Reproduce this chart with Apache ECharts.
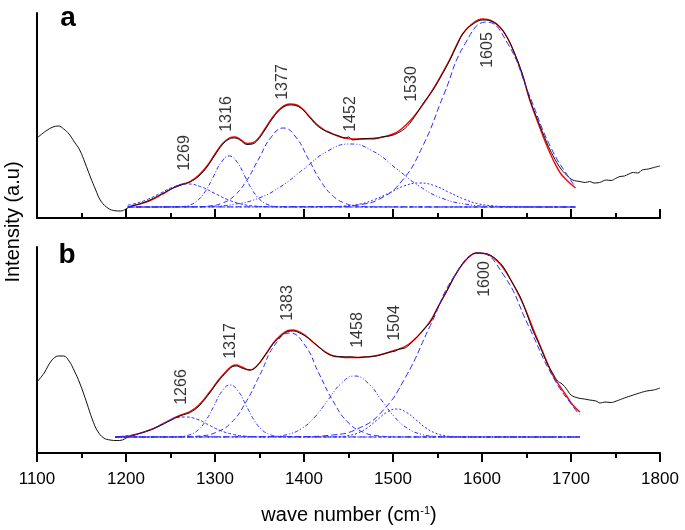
<!DOCTYPE html>
<html><head><meta charset="utf-8">
<script src="https://cdn.jsdelivr.net/npm/echarts@6/dist/echarts.min.js"></script>
<style>html,body{margin:0;padding:0;background:#fff}#c{width:685px;height:530px}</style>
</head><body><div id="c"></div>
<script>
// ---------- Panel a ----------
const rawA = [[1100,80],[1110,87],[1118,91],[1124,92],[1130,89],[1136,84],[1142,76],[1148,68],[1154,55],[1160,41],[1166,28],[1171,18],[1178,11],[1186,7.5],[1194,7],[1200,9],[1205,11.5],[1215,14],[1227,18],[1240,24],[1253,30],[1262,33],[1272,36],[1282,42],[1291,51],[1300,63],[1308,73],[1316,79],[1322,80],[1328,78],[1336,73.5],[1342,74],[1348,78],[1356,88],[1365,100],[1374,109],[1384,113],[1392,112],[1399,108],[1406,101],[1414,93],[1422,88],[1429,85],[1438,82.5],[1446,80],[1450,81],[1455,78],[1462,79],[1470,79.5],[1478,79],[1489,81.3],[1496,82],[1502,83.5],[1508,86.3],[1514,90],[1520,96],[1527,105],[1534,114.7],[1545,128],[1553,140],[1564,158],[1572,173],[1579,185],[1590,194],[1601,198],[1610,197],[1620,191],[1628,181],[1635,168],[1645,145],[1654,118],[1663,97],[1673,75],[1680,62],[1688,50],[1695,43],[1702,38],[1710,36.5],[1716,35.5],[1721,36.5],[1726,35],[1732,35.5],[1740,38],[1745,37.5],[1750,39.5],[1755,41.5],[1760,42],[1765,44],[1770,45.5],[1775,45],[1780,48],[1787,49],[1793,50.5],[1800,52]];
const fitA = [[1202,11],[1215,13.8],[1227,17.5],[1240,23.5],[1253,30],[1262,33.5],[1272,36.5],[1282,43],[1291,52],[1300,64],[1308,74],[1316,80],[1322,81],[1328,79],[1336,74.5],[1342,75],[1348,79],[1356,89],[1365,101],[1374,110],[1384,114],[1392,113],[1399,108.5],[1406,101.5],[1414,94],[1422,88.5],[1429,85.5],[1438,82],[1446,80],[1455,79],[1465,79],[1475,79.5],[1489,81],[1500,84],[1508,88],[1520,98],[1534,114],[1545,129],[1553,141],[1564,159],[1572,174],[1579,185],[1590,195],[1601,199],[1610,197.5],[1620,191],[1628,181],[1635,168],[1645,144],[1654,117],[1663,95],[1673,72],[1680,58],[1688,45],[1695,38],[1705,30]];
const bandA1269 = [[1202,12.9],[1209,14.1],[1224,18.5],[1239,24.9],[1254,31.3],[1269,34],[1284,31.3],[1299,24.9],[1314,18.5],[1329,14.1],[1344,12],[1359,11.3],[1380,11],[1705,11]];
const bandA1316 = [[1202,11],[1250,11.1],[1262,11.4],[1271,12.9],[1280,17.2],[1289,26.5],[1298,41],[1307,55.7],[1316,62],[1325,55.7],[1334,41],[1343,26.5],[1352,17.2],[1361,12.9],[1370,11.4],[1382,11.1],[1705,11]];
const bandA1377 = [[1202,11],[1280,11.2],[1293,11.9],[1307,14.5],[1321,21.7],[1335,36.7],[1349,58.9],[1363,80.7],[1377,90],[1391,80.7],[1405,58.9],[1419,36.7],[1433,21.7],[1447,14.5],[1461,11.9],[1474,11.2],[1705,11]];
const bandA1452 = [[1202,11],[1270,11.2],[1296,11.7],[1322,13.8],[1348,19.5],[1374,31.5],[1400,49.2],[1426,66.6],[1452,74],[1478,66.6],[1504,49.2],[1530,31.5],[1556,19.5],[1582,13.8],[1608,11.7],[1634,11.2],[1705,11]];
const bandA1530 = [[1202,11],[1410,11.1],[1431,11.3],[1447,12.1],[1464,14.2],[1480,18.8],[1497,25.6],[1513,32.2],[1530,35],[1547,32.2],[1563,25.6],[1580,18.8],[1596,14.2],[1613,12.1],[1629,11.3],[1650,11.1],[1705,11]];
const bandA1605 = [[1202,11],[1440,11.5],[1461,13.1],[1485,19.1],[1509,36],[1533,71.1],[1557,123.2],[1581,174.3],[1605,196],[1629,174.3],[1653,123.2],[1677,71.1],[1701,36],[1705,32]];
const peakTextA = ['1269','1316','1377','1452','1530','1605'];
const peakLabelWnA = [1266,1313,1376,1452,1521,1606];
const peakLabelValA = [65,104,136,104,134,168];

// ---------- Panel b ----------
const rawB = [[1100,71],[1108,80],[1116,92],[1124,97],[1130,97],[1136,92],[1142,82],[1148,70],[1156,50],[1162,34],[1168,22],[1175,15],[1182,13],[1190,12.5],[1196,13],[1200,15],[1210,18],[1227,23],[1240,28],[1253,34],[1262,37.5],[1272,40.5],[1282,47],[1294,60],[1304,72],[1313,81],[1319,86],[1324,87],[1330,85],[1339,83],[1346,86],[1358,100],[1366,110],[1373,116],[1382,121.5],[1388,122],[1395,120],[1403,116],[1410,111],[1418,105],[1425,100],[1433,97],[1440,96.5],[1447,96],[1452,96.3],[1460,95.5],[1468,96],[1476,96.5],[1483,97.5],[1489,99],[1497,101],[1503,102],[1507,104],[1512,104.5],[1518,108],[1527,116],[1535,124],[1542,131],[1550,145],[1561,163],[1570,178],[1579,190],[1588,198],[1594,200],[1603,199.5],[1609,198],[1617,193],[1624,186],[1633,172],[1643,156],[1650,140],[1657,123],[1665,107],[1673,90],[1680,79],[1685,72],[1690,69],[1695,64],[1700,58],[1708,55],[1715,54],[1721,53],[1728,52],[1733,50],[1738,51],[1745,50.5],[1751,52],[1760,55],[1770,58],[1777,60],[1785,62],[1793,63],[1800,65]];
const fitB = [[1188,16],[1200,16.5],[1210,18.5],[1227,23],[1240,28.5],[1253,34.5],[1262,38],[1272,41.5],[1282,48],[1294,61],[1304,73],[1313,82],[1319,87],[1324,88],[1330,86],[1339,83],[1346,86],[1358,100],[1366,110.5],[1373,117],[1382,122.5],[1388,123],[1395,121],[1403,116.5],[1410,111],[1418,105],[1425,100.5],[1433,97],[1440,96],[1452,95.5],[1460,95.5],[1468,96],[1476,96.5],[1489,99],[1503,103],[1510,105],[1518,109],[1527,116],[1535,124],[1542,132],[1550,145],[1561,163],[1570,178],[1579,190],[1588,198],[1594,200],[1603,199.5],[1609,197.5],[1617,192],[1624,185],[1633,172],[1643,155],[1650,141],[1657,125],[1665,108],[1673,91],[1680,77],[1688,66],[1695,57],[1702,48],[1710,41]];
const bandB1266 = [[1188,16.3],[1198,16.9],[1212,18.7],[1225,22.5],[1239,28.1],[1252,33.7],[1266,36],[1280,33.7],[1293,28.1],[1306,22.5],[1320,18.7],[1333,16.9],[1347,16.2],[1365,16],[1710,16]];
const bandB1317 = [[1188,16],[1253,16.1],[1263,16.6],[1272,18.3],[1281,23],[1290,32.9],[1299,47.5],[1308,61.9],[1317,68],[1326,61.9],[1335,47.5],[1344,32.9],[1353,23],[1362,18.3],[1371,16.6],[1381,16.1],[1710,16]];
const bandB1383 = [[1188,16],[1262,16.1],[1285,17.2],[1301,20.6],[1318,30.1],[1334,49.8],[1351,79.1],[1367,107.8],[1384,120],[1401,107.8],[1417,79.1],[1434,49.8],[1450,30.1],[1467,20.6],[1483,17.2],[1505,16.1],[1710,16]];
const bandB1458 = [[1188,16],[1345,16.1],[1367,16.7],[1382,18.7],[1397,24.3],[1412,35.8],[1427,53],[1442,69.8],[1457,77],[1472,69.8],[1487,53],[1502,35.8],[1517,24.3],[1532,18.7],[1547,16.7],[1570,16.1],[1710,16]];
const bandB1504 = [[1188,16],[1420,16.05],[1438,16.3],[1449,17.2],[1460,19.8],[1471,25.1],[1482,33],[1493,40.7],[1504,44],[1515,40.7],[1526,33],[1537,25.1],[1548,19.8],[1559,17.2],[1570,16.3],[1588,16.05],[1710,16]];
const bandB1600 = [[1188,16],[1400,16.5],[1432,18],[1460,24.1],[1487,40.9],[1514,75.7],[1542,127.6],[1570,178.4],[1597,200],[1624,178.4],[1652,127.6],[1680,75.7],[1707,40.9],[1710,38.5]];
const peakTextB = ['1266','1317','1383','1458','1504','1600'];
const peakLabelWnB = [1263,1317,1382,1460,1502,1603];
const peakLabelValB = [66,112,150,123,130,174];

// ---------- build ----------
const FONT = '"Liberation Sans", Arial, Helvetica, sans-serif';
const BLUE = '#2a2aff';
const dashes = [[3,2],[4,2,1,2],[5,3],[4,2,1,2,1,2],[2,2],[6,3]];

function bandSeries(list, idx) {
  return list.map((d, i) => ({
    type: 'line', data: d, xAxisIndex: idx, yAxisIndex: idx,
    showSymbol: false, smooth: 0.5, silent: true, z: 4,
    lineStyle: { color: BLUE, width: 1, type: dashes[i] }
  }));
}
function labelSeries(texts, wns, vals, idx) {
  return {
    type: 'scatter', xAxisIndex: idx, yAxisIndex: idx, symbolSize: 1, z: 6,
    itemStyle: { color: 'rgba(0,0,0,0)' },
    data: texts.map((t, i) => ({ value: [wns[i], vals[i]], name: t })),
    label: { show: true, position: 'inside', rotate: 90, formatter: p => p.name,
      fontSize: 16, fontFamily: FONT, color: '#000' }
  };
}
function xAx(idx, inside, showLabels) {
  return {
    type: 'value', gridIndex: idx, min: 1100, max: 1800, interval: 100,
    axisLine: { onZero: false, lineStyle: { color: '#000', width: 2 } },
    axisTick: { inside: inside, length: 9, lineStyle: { color: '#000', width: 2 } },
    minorTick: { show: true, splitNumber: 2, length: 5, lineStyle: { color: '#000', width: 2 } },
    axisLabel: { show: showLabels, fontSize: 17, fontFamily: FONT, color: '#000', margin: 18,
      formatter: v => String(v) },
    splitLine: { show: false }
  };
}
function yAx(idx, max) {
  return {
    type: 'value', gridIndex: idx, min: 0, max: max,
    axisLine: { show: true, onZero: false, lineStyle: { color: '#000', width: 2 } },
    axisTick: { show: false }, axisLabel: { show: false }, splitLine: { show: false }
  };
}

const chart = echarts.init(document.getElementById('c'), null, { renderer: 'canvas' });
chart.setOption({
  animation: false,
  backgroundColor: '#fff',
  grid: [
    { left: 37, right: 25, top: 13, height: 205 },
    { left: 37, right: 25, top: 247, height: 206 }
  ],
  xAxis: [xAx(0, true, false), xAx(1, false, true)],
  yAxis: [yAx(0, 205), yAx(1, 206)],
  series: [
    { type: 'line', data: fitA, xAxisIndex: 0, yAxisIndex: 0, showSymbol: false, smooth: 0.4, z: 2,
      lineStyle: { color: '#ff0000', width: 1.4 } },
    { type: 'line', data: rawA, xAxisIndex: 0, yAxisIndex: 0, showSymbol: false, smooth: 0.4, z: 3,
      lineStyle: { color: '#111', width: 1 } },
    ...bandSeries([bandA1269, bandA1316, bandA1377, bandA1452, bandA1530, bandA1605], 0),
    labelSeries(peakTextA, peakLabelWnA, peakLabelValA, 0),
    { type: 'line', data: fitB, xAxisIndex: 1, yAxisIndex: 1, showSymbol: false, smooth: 0.4, z: 2,
      lineStyle: { color: '#ff0000', width: 1.4 } },
    { type: 'line', data: rawB, xAxisIndex: 1, yAxisIndex: 1, showSymbol: false, smooth: 0.4, z: 3,
      lineStyle: { color: '#111', width: 1 } },
    ...bandSeries([bandB1266, bandB1317, bandB1383, bandB1458, bandB1504, bandB1600], 1),
    labelSeries(peakTextB, peakLabelWnB, peakLabelValB, 1)
  ],
  graphic: [
    { type: 'text', x: 68, y: 18, style: { text: 'a', fontSize: 28, fontWeight: 'bold', fontFamily: FONT, fill: '#000', align: 'center', verticalAlign: 'middle' } },
    { type: 'text', x: 67, y: 255, style: { text: 'b', fontSize: 28, fontWeight: 'bold', fontFamily: FONT, fill: '#000', align: 'center', verticalAlign: 'middle' } },
    { type: 'text', x: 13, y: 222, rotation: Math.PI / 2, style: { text: 'Intensity (a.u)', fontSize: 20, fontFamily: FONT, fill: '#000', align: 'center', verticalAlign: 'middle' } },
    { type: 'text', x: 349, y: 515, style: {
        text: '{a|wave number (cm}{s|-1}{a|)}', fill: '#000', align: 'center', verticalAlign: 'middle',
        rich: { a: { fontSize: 20, fontFamily: FONT, fill: '#000', verticalAlign: 'bottom' },
                s: { fontSize: 11, fontFamily: FONT, fill: '#000', verticalAlign: 'top' } } } }
  ]
});
</script>
</body></html>
